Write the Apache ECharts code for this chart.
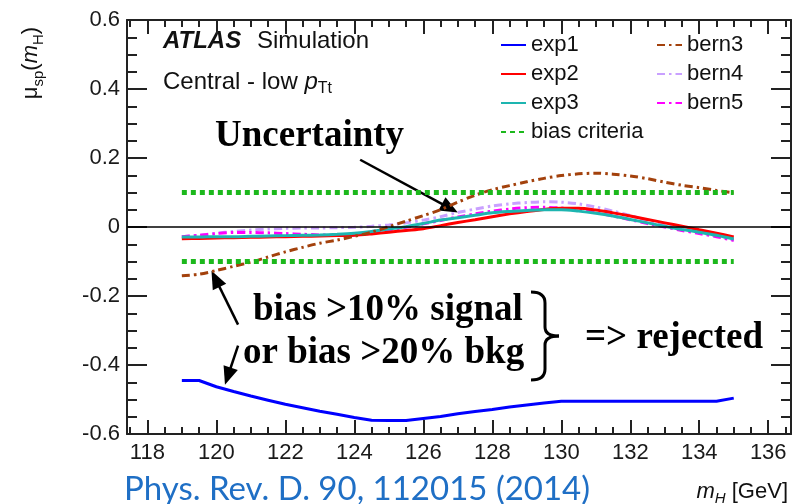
<!DOCTYPE html>
<html>
<head>
<meta charset="utf-8">
<script src="https://cdn.jsdelivr.net/npm/echarts@6/dist/echarts.min.js"></script>
<style>
  html, body { margin: 0; padding: 0; background: #fff; }
  #chart { width: 792px; height: 504px; }
</style>
</head>
<body>
<div id="chart"></div>
<script>
// Higgs mass hypotheses (GeV) at which the spurious signal was evaluated
const massPoints = [119, 119.5, 120, 120.5, 121, 121.5, 122, 122.5, 123, 123.5, 124, 124.5, 125, 125.5,
  126, 126.5, 127, 127.5, 128, 128.5, 129, 129.5, 130, 130.5, 131, 131.5, 132, 132.5, 133, 133.5,
  134, 134.5, 135];

// Spurious signal mu_sp(m_H) for each background model
const exp1 = [-0.445, -0.445, -0.463, -0.477, -0.490, -0.502, -0.514, -0.524, -0.534, -0.543,
  -0.552, -0.560, -0.561, -0.561, -0.555, -0.549, -0.541, -0.535, -0.529, -0.522, -0.516, -0.510,
  -0.505, -0.505, -0.505, -0.505, -0.505, -0.505, -0.505, -0.505, -0.505, -0.505, -0.496];
const exp2 = [-0.034, -0.033, -0.032, -0.031, -0.030, -0.029, -0.028, -0.027, -0.026, -0.025,
  -0.024, -0.020, -0.015, -0.010, -0.005, 0.004, 0.013, 0.021, 0.030, 0.038, 0.045, 0.051, 0.054,
  0.054, 0.049, 0.041, 0.032, 0.022, 0.012, 0.002, -0.008, -0.018, -0.029];
const exp3 = [-0.029, -0.029, -0.028, -0.028, -0.027, -0.026, -0.025, -0.024, -0.023, -0.021,
  -0.018, -0.013, -0.006, 0.001, 0.010, 0.020, 0.027, 0.034, 0.041, 0.045, 0.048, 0.050, 0.050,
  0.046, 0.040, 0.032, 0.022, 0.012, 0.002, -0.007, -0.015, -0.024, -0.035];
const bern3 = [-0.141, -0.137, -0.126, -0.114, -0.102, -0.087, -0.072, -0.059, -0.047, -0.038,
  -0.027, -0.015, 0.001, 0.017, 0.033, 0.050, 0.072, 0.092, 0.108, 0.120, 0.131, 0.141, 0.149,
  0.154, 0.156, 0.153, 0.148, 0.140, 0.130, 0.121, 0.114, 0.106, 0.099];
const bern4 = [-0.028, -0.024, -0.018, -0.013, -0.009, -0.006, -0.004, -0.003, -0.003, -0.002,
  -0.001, 0.002, 0.006, 0.012, 0.020, 0.030, 0.042, 0.052, 0.061, 0.067, 0.071, 0.073, 0.072,
  0.067, 0.058, 0.046, 0.033, 0.019, 0.006, -0.006, -0.016, -0.026, -0.037];
const bern5 = [-0.028, -0.024, -0.019, -0.016, -0.016, -0.017, -0.019, -0.021, -0.023, -0.024,
  -0.023, -0.018, -0.010, -0.001, 0.009, 0.019, 0.029, 0.038, 0.046, 0.052, 0.056, 0.057, 0.055,
  0.050, 0.042, 0.032, 0.021, 0.010, 0.000, -0.010, -0.019, -0.028, -0.039];

// Acceptance band for the spurious signal
const biasLevels = [0.1, -0.1];

// Axis ticks
const xMajorTicks = [118, 120, 122, 124, 126, 128, 130, 132, 134, 136];
const xMinorTicks = [117.5, 118.5, 119, 119.5, 120.5, 121, 121.5, 122.5, 123, 123.5, 124.5, 125,
  125.5, 126.5, 127, 127.5, 128.5, 129, 129.5, 130.5, 131, 131.5, 132.5, 133, 133.5, 134.5, 135,
  135.5, 136.5];

const SANS = "'Liberation Sans', Arial, sans-serif";
const SERIF = "'Liberation Serif', 'Times New Roman', serif";
const X_MIN = 117.41, X_MAX = 136.66;

const pairs = vals => massPoints.map((m, i) => [m, vals[i]]);

function curve(name, vals, color, type, width) {
  return {
    name, type: 'line', data: pairs(vals), symbol: 'none', smooth: 0.3,
    lineStyle: { color, width, type }, itemStyle: { color },
    silent: true
  };
}

const dashDot = [8, 4, 2.5, 4];

const series = [
  Object.assign(curve('exp1', exp1, '#0000ff', 'solid', 3), {
    smooth: false,
    markLine: {
      silent: true, symbol: 'none', label: { show: false },
      lineStyle: { color: '#000', width: 1.5, type: 'solid' },
      data: [{ yAxis: 0 }]
    }
  }),
  curve('bern4', bern4, '#c9a0ff', dashDot, 3),
  curve('bern5', bern5, '#ff00ff', dashDot, 3),
  curve('exp2', exp2, '#ff0000', 'solid', 3),
  curve('exp3', exp3, '#1db5b0', 'solid', 3),
  curve('bern3', bern3, '#a3410c', dashDot, 3)
];
biasLevels.forEach(level => {
  series.push({
    name: 'bias criteria', type: 'line', symbol: 'none', silent: true,
    data: [[massPoints[0], level], [massPoints[massPoints.length - 1], level]],
    lineStyle: { color: '#1cb81c', width: 5, type: [5, 4] }, itemStyle: { color: '#1cb81c' }
  });
});

const frameLine = { show: true, onZero: false, lineStyle: { color: '#222', width: 2 } };

function xAxisDef(position, ticks, len, withLabels) {
  return {
    type: 'value', position, min: X_MIN, max: X_MAX,
    axisLine: withLabels !== null ? frameLine : { show: false, onZero: false },
    axisTick: { show: true, inside: true, length: len, customValues: ticks, lineStyle: { color: '#222', width: 2 } },
    axisLabel: withLabels ? { show: true, customValues: xMajorTicks, fontSize: 22, fontFamily: SANS, color: '#1a1a1a', margin: 8 } : { show: false },
    splitLine: { show: false }
  };
}

function yAxisDef(position, withLabels) {
  return {
    type: 'value', position, min: -0.6, max: 0.6, interval: 0.2,
    axisLine: frameLine,
    axisTick: { show: true, inside: true, length: 20, lineStyle: { color: '#222', width: 2 } },
    minorTick: { show: true, splitNumber: 4, length: 10, lineStyle: { color: '#222', width: 2 } },
    axisLabel: withLabels ? { show: true, fontSize: 22, fontFamily: SANS, color: '#1a1a1a', margin: 7,
      formatter: v => String(Math.round(v * 10) / 10) } : { show: false },
    splitLine: { show: false }
  };
}

const legendCommon = {
  orient: 'vertical', top: 34, padding: 0, itemWidth: 25, itemHeight: 14, itemGap: 7,
  selectedMode: false, itemStyle: { opacity: 0 },
  textStyle: { fontSize: 22, fontFamily: SANS, color: '#111', lineHeight: 22 }
};

const chart = echarts.init(document.getElementById('chart'), null, { renderer: 'canvas' });
chart.setOption({
  animation: false,
  backgroundColor: '#fff',
  grid: { left: 127, right: 1, top: 20, bottom: 70, containLabel: false },
  xAxis: [
    xAxisDef('bottom', xMajorTicks, 14, true),
    xAxisDef('bottom', xMinorTicks, 7, null),
    xAxisDef('top', xMajorTicks, 14, false),
    xAxisDef('top', xMinorTicks, 7, null)
  ],
  yAxis: [yAxisDef('left', true), yAxisDef('right', false)],
  legend: [
    Object.assign({ left: 500, data: ['exp1', 'exp2', 'exp3', 'bias criteria'] }, legendCommon),
    Object.assign({ left: 656, data: ['bern3', 'bern4', 'bern5'] }, legendCommon)
  ],
  series
});

// Annotation arrows, endpoints given in data coordinates [m_H, mu_sp]
const arrows = [
  { from: [124.17, 0.195], to: [127.0, 0.042] },
  { from: [120.63, -0.283], to: [119.86, -0.127] },
  { from: [120.63, -0.344], to: [120.25, -0.457] }
];

function arrowGraphics(a) {
  const p0 = chart.convertToPixel({ gridIndex: 0 }, a.from);
  const p1 = chart.convertToPixel({ gridIndex: 0 }, a.to);
  const dx = p1[0] - p0[0], dy = p1[1] - p0[1];
  const len = Math.hypot(dx, dy);
  const ux = dx / len, uy = dy / len, nx = -uy, ny = ux;
  const headL = 18, headW = 7.5;
  const bx = p1[0] - ux * headL, by = p1[1] - uy * headL;
  return [
    { type: 'line', silent: true, shape: { x1: p0[0], y1: p0[1], x2: bx + ux * 2, y2: by + uy * 2 },
      style: { stroke: '#000', lineWidth: 2.5 } },
    { type: 'polygon', silent: true,
      shape: { points: [[p1[0], p1[1]], [bx + nx * headW, by + ny * headW], [bx - nx * headW, by - ny * headW]] },
      style: { fill: '#000' } }
  ];
}

function txt(x, y, text, rich, align) {
  return {
    type: 'text', x, y, silent: true,
    style: { text, rich, align: align || 'left', verticalAlign: 'middle', fill: '#000' }
  };
}

const graphics = [];
arrows.forEach(a => graphics.push(...arrowGraphics(a)));

// curly brace grouping the two rejection criteria
const braceStroke = { stroke: '#000', lineWidth: 3, fill: null };
const braceParts = [
  { type: 'bezierCurve', shape: { x1: 531, y1: 292, x2: 545, y2: 303, cpx1: 545, cpy1: 292 } },
  { type: 'line', shape: { x1: 545, y1: 303, x2: 545, y2: 327 } },
  { type: 'bezierCurve', shape: { x1: 545, y1: 327, x2: 559, y2: 336, cpx1: 545, cpy1: 336 } },
  { type: 'bezierCurve', shape: { x1: 559, y1: 336, x2: 545, y2: 345, cpx1: 545, cpy1: 336 } },
  { type: 'line', shape: { x1: 545, y1: 345, x2: 545, y2: 369 } },
  { type: 'bezierCurve', shape: { x1: 545, y1: 369, x2: 531, y2: 380, cpx1: 545, cpy1: 380 } }
];
braceParts.forEach(p => graphics.push(Object.assign(p, { silent: true, style: braceStroke })));

const serifBold = { t: { fontFamily: SERIF, fontSize: 37, fontWeight: 'bold', fill: '#000' } };

graphics.push(
  txt(163, 41, '{b|ATLAS}', {
    b: { fontFamily: SANS, fontSize: 24, fontWeight: 'bold', fontStyle: 'italic', fill: '#111' }
  }),
  txt(257, 41, '{n|Simulation}', {
    n: { fontFamily: SANS, fontSize: 24, fill: '#111' }
  }),
  txt(163, 82, '{n|Central - low }{i|p}{s|Tt}', {
    n: { fontFamily: SANS, fontSize: 24, fill: '#111', lineHeight: 30 },
    i: { fontFamily: SANS, fontSize: 24, fontStyle: 'italic', fill: '#111', lineHeight: 30 },
    s: { fontFamily: SANS, fontSize: 16, fill: '#111', lineHeight: 14, verticalAlign: 'bottom' }
  }),
  txt(215, 136, '{t|Uncertainty}', serifBold),
  txt(253, 310, '{t|bias >10% signal}', serifBold),
  txt(243, 353, '{t|or bias >20% bkg}', serifBold),
  txt(585, 338, '{t|=> rejected}', serifBold),
  txt(124, 489, '{t|Phys. Rev. D. 90, 112015 (2014)}', {
    t: { fontFamily: "Lato, 'Open Sans', sans-serif", fontSize: 33, fill: '#1f6fc5' }
  }),
  txt(788, 492, '{i|m}{s|H}{n| [GeV]}', {
    i: { fontFamily: SANS, fontSize: 22, fontStyle: 'italic', fill: '#111', lineHeight: 28 },
    s: { fontFamily: SANS, fontSize: 15, fontStyle: 'italic', fill: '#111', lineHeight: 14, verticalAlign: 'bottom' },
    n: { fontFamily: SANS, fontSize: 22, fill: '#111', lineHeight: 28 }
  }, 'right'),
  {
    type: 'text', x: 31, y: 63, rotation: Math.PI / 2, silent: true,
    style: {
      text: '{m|\u03bc}{s|sp}{n|(}{i|m}{s|H}{n|)}', align: 'center', verticalAlign: 'middle',
      rich: {
        m: { fontFamily: SANS, fontSize: 22, fill: '#111', lineHeight: 30 },
        n: { fontFamily: SANS, fontSize: 22, fill: '#111', lineHeight: 30 },
        i: { fontFamily: SANS, fontSize: 22, fontStyle: 'italic', fill: '#111', lineHeight: 30 },
        s: { fontFamily: SANS, fontSize: 15, fill: '#111', lineHeight: 14, verticalAlign: 'bottom' }
      }
    }
  }
);

chart.setOption({ graphic: graphics });
</script>
</body>
</html>
